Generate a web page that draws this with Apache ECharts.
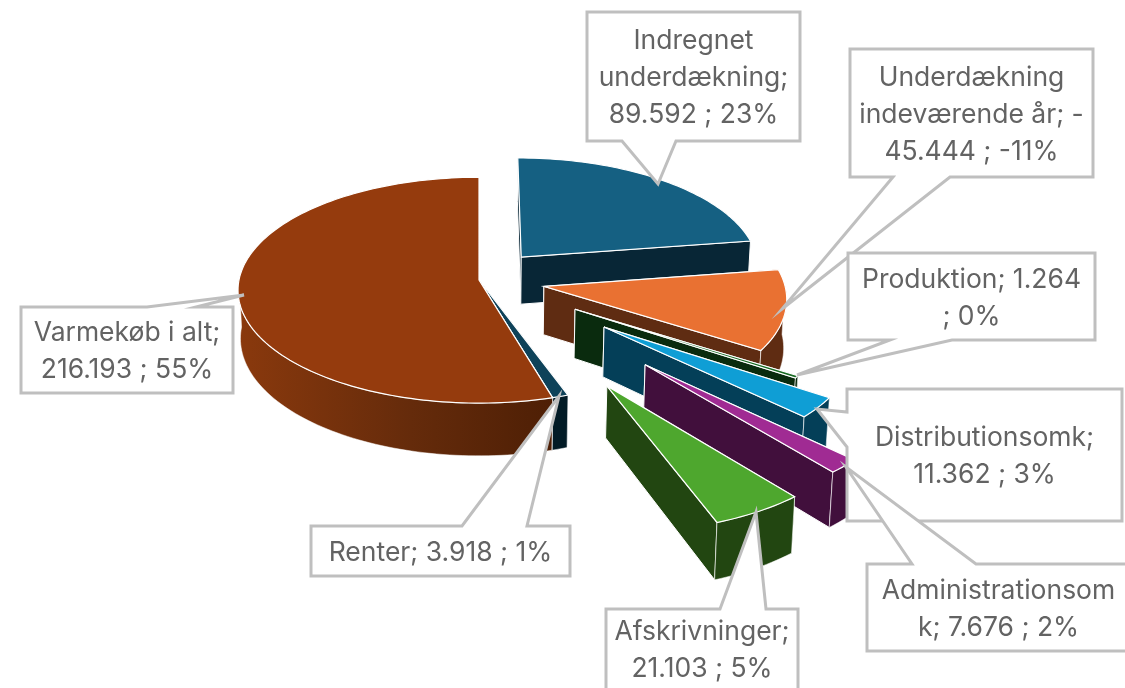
<!DOCTYPE html>
<html>
<head>
<meta charset="utf-8">
<style>html,body{margin:0;padding:0;background:#fff}#chart{width:1125px;height:688px}</style>
<script src="https://cdn.jsdelivr.net/npm/echarts@6/dist/echarts.min.js"></script>
</head>
<body>
<div id="chart"></div>
<script>
const categories = ['Indregnet underdækning', 'Underdækning indeværende år', 'Produktion', 'Distributionsomk', 'Administrationsomk', 'Afskrivninger', 'Renter', 'Varmekøb i alt'];
const values = [89592, -45444, 1264, 11362, 7676, 21103, 3918, 216193];
const labelTexts = [
  'Indregnet\nunderdækning;\n89.592 ; 23%',
  'Underdækning\nindeværende år; -\n45.444 ; -11%',
  'Produktion; 1.264\n; 0%',
  'Distributionsomk;\n11.362 ; 3%',
  'Administrationsom\nk; 7.676 ; 2%',
  'Afskrivninger;\n21.103 ; 5%',
  'Renter; 3.918 ; 1%',
  'Varmekøb i alt;\n216.193 ; 55%'
];
// how far each slice is pulled out, in pie radii
const explode = [0.275, 0.275, 0.467, 0.645, 0.96, 1.0, 0, 0];
const topColors = ['#156082', '#E97132', '#196B24', '#0F9ED5', '#A02B93', '#4EA72E', '#0E4259', '#953B0D'];
const wallColors = ['#082636', '#5F2C12', '#0A2B0E', '#043F58', '#410F3C', '#224611', '#021B26', '#6B2C0A'];
// painter's order: Renter tucks under the big slice, the rest go back to front
const drawOrder = [6, 7, 0, 1, 2, 3, 4, 5];

// callout boxes in pixels: box, pointer base, pointer tip
const callouts = [
  { box: [587, 12, 800, 141], edge: 'bottom', base: [622, 676], tip: [658, 184] },
  { box: [850, 49, 1093, 177], edge: 'bottom', base: [893, 950], tip: [782, 309] },
  { box: [848, 253, 1095, 340], edge: 'bottom', base: [890, 952], tip: [797, 375] },
  { box: [847, 389, 1122, 521], edge: 'left', base: [412, 447], tip: [817, 409] },
  { box: [867, 564, 1130, 651], edge: 'top', base: [912, 976], tip: [846, 467] },
  { box: [606, 609, 798, 700], edge: 'top', base: [720, 766], tip: [756, 512] },
  { box: [311, 526, 570, 576], edge: 'top', base: [462, 527], tip: [559, 396] },
  { box: [21, 307, 233, 393], edge: 'top', base: [147, 196], tip: [244, 295] }
];

const R = 240, RY = 112, PERSP = 0.09, DEPTH = 48;
const CX = 479, CY = 280;

const absTotal = values.reduce((s, v) => s + Math.abs(v), 0);
const slices = [];
let acc = 0;
values.forEach((v, i) => {
  const from = acc / absTotal * Math.PI * 2;
  acc += Math.abs(v);
  slices.push({ i: i, from: from, to: acc / absTotal * Math.PI * 2 });
});

// world point on the pie plane -> pixel, goes through the hidden axes
function project(api, X, Z, drop) {
  const p = 1 / (1 - PERSP * Z);
  return api.coord([R * X * p * (1 - (drop ? 0.01 : 0)), RY * Z * p + (drop ? DEPTH * p : 0)]);
}

function renderSlice(params, api) {
  const s = slices[api.value(0)];
  const mid = (s.from + s.to) / 2;
  const e = explode[s.i];
  const ox = e * Math.sin(mid), oz = -e * Math.cos(mid);
  const pt = (r, a, drop) => project(api, ox + r * Math.sin(a), oz - r * Math.cos(a), drop);

  const steps = Math.max(2, Math.ceil((s.to - s.from) * 40));
  const arcTop = [], arcBottom = [];
  for (let k = 0; k <= steps; k++) {
    const a = s.from + (s.to - s.from) * k / steps;
    arcTop.push(pt(1, a, false));
    arcBottom.push(pt(1, a, true));
  }
  const children = [];

  // radial walls first
  [s.from, s.to].forEach((a) => {
    children.push({
      type: 'polygon',
      shape: { points: [pt(0, a, false), pt(1, a, false), pt(1, a, true), pt(0, a, true)] },
      style: { fill: wallColors[s.i], stroke: '#ffffff', lineWidth: 1 }
    });
  });

  let arcFill = wallColors[s.i];
  if (s.i === values.length - 1) {
    arcFill = new echarts.graphic.LinearGradient(0, 0, 1, 0, [
      { offset: 0, color: '#8A390D' },
      { offset: 0.55, color: '#652B0B' },
      { offset: 1, color: '#4E1F05' }
    ]);
  }
  // only the part of the rim facing the viewer
  const front = [];
  for (let k = 0; k <= steps; k++) {
    const a = s.from + (s.to - s.from) * k / steps;
    if (Math.cos(a) <= 0.02) front.push(k);
  }
  if (front.length > 1) {
    const f0 = front[0], f1 = front[front.length - 1];
    children.push({
      type: 'polygon',
      shape: { points: arcTop.slice(f0, f1 + 1).concat(arcBottom.slice(f0, f1 + 1).reverse()) },
      style: { fill: arcFill, stroke: 'rgba(255,255,255,0.5)', lineWidth: 1 }
    });
  }
  children.push({
    type: 'polygon',
    shape: { points: [pt(0, s.from, false)].concat(arcTop) },
    style: { fill: topColors[s.i], stroke: '#ffffff', lineWidth: 1.2 }
  });
  return { type: 'group', children: children };
}

function calloutPath(c) {
  const [x0, y0, x1, y1] = c.box;
  const [b0, b1] = c.base;
  const tip = c.tip;
  if (c.edge === 'bottom') return [[x0, y0], [x1, y0], [x1, y1], [b1, y1], tip, [b0, y1], [x0, y1]];
  if (c.edge === 'top') return [[x0, y0], [b0, y0], tip, [b1, y0], [x1, y0], [x1, y1], [x0, y1]];
  return [[x0, y0], [x1, y0], [x1, y1], [x0, y1], [x0, b1], tip, [x0, b0]];
}

function renderCallout(params, api) {
  const i = api.value(0);
  const c = callouts[i];
  const box = c.box;
  const bottom = Math.min(box[3], 688);
  return {
    type: 'group',
    children: [
      {
        type: 'polygon',
        shape: { points: calloutPath(c) },
        style: { fill: '#ffffff', stroke: '#BFBFBF', lineWidth: 3 }
      },
      {
        type: 'text',
        style: {
          text: labelTexts[i],
          x: (box[0] + box[2]) / 2,
          y: (box[1] + bottom) / 2 + 2,
          align: 'center',
          verticalAlign: 'middle',
          fill: '#636363',
          font: '26.5px Inter, sans-serif',
          lineHeight: 37
        }
      }
    ]
  };
}

const chart = echarts.init(document.getElementById('chart'), null, { renderer: 'canvas' });
chart.setOption({
  animation: false,
  backgroundColor: '#ffffff',
  grid: { left: 0, right: 0, top: 0, bottom: 0 },
  xAxis: { type: 'value', min: -CX, max: 1125 - CX, show: false },
  yAxis: { type: 'value', min: -CY, max: 688 - CY, inverse: true, show: false },
  series: [
    {
      type: 'custom',
      name: 'Skiver',
      coordinateSystem: 'cartesian2d',
      renderItem: renderSlice,
      encode: { x: 0, y: 0 },
      data: drawOrder.map((i) => [i]),
      silent: true,
      z: 1
    },
    {
      type: 'custom',
      name: 'Etiketter',
      coordinateSystem: 'none',
      renderItem: renderCallout,
      data: categories.map((c, i) => [i]),
      silent: true,
      z: 2
    }
  ]
});
</script>
</body>
</html>
